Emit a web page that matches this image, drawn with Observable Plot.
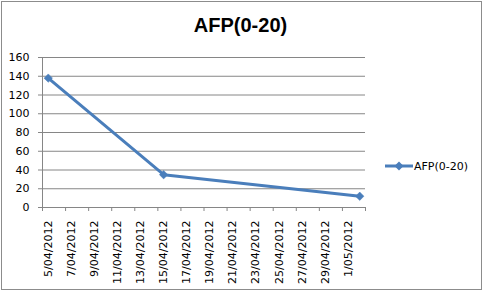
<!DOCTYPE html>
<html>
<head>
<meta charset="utf-8">
<script src="https://cdn.jsdelivr.net/npm/d3@7"></script>
<script src="https://cdn.jsdelivr.net/npm/@observablehq/plot@0.6"></script>
<style>
  html, body { margin: 0; padding: 0; background: #fff; }
  #wrap { position: relative; width: 483px; height: 291px; overflow: hidden; background: #fff; }
  #border { position: absolute; left: 1px; top: 1px; width: 481px; height: 289px; box-sizing: border-box; border: 1px solid #8c8c8c; pointer-events: none; }
  #title { position: absolute; left: 0; width: 481px; top: 14px; text-align: center; font: bold 20px "Liberation Sans", Arial, sans-serif; color: #000; }
  #legend { position: absolute; left: 385px; top: 158px; font: 11px "DejaVu Sans", sans-serif; color: #000; display: flex; align-items: center; }
  #legend svg { display: block; }
  #chart { position: absolute; left: 0; top: 0; }
  #chart svg text { font-family: "DejaVu Sans", sans-serif; }
</style>
</head>
<body>
<div id="wrap">
  <div id="chart"></div>
  <div id="title"></div>
  <div id="legend"></div>
  <div id="border"></div>
</div>
<script>
// ---- data ----
const chartTitle = "AFP(0-20)";
const seriesName = "AFP(0-20)";
const dates = ["2012-04-05", "2012-04-15", "2012-05-02"];
const values = [138, 35, 12];
const tickLabels = ["5/04/2012", "7/04/2012", "9/04/2012", "11/04/2012", "13/04/2012", "15/04/2012", "17/04/2012",
  "19/04/2012", "21/04/2012", "23/04/2012", "25/04/2012", "27/04/2012", "29/04/2012", "1/05/2012"];
const yTicks = [0, 20, 40, 60, 80, 100, 120, 140, 160];

// ---- build ----
const start = new Date(Date.UTC(2012, 3, 5));
const dayIndex = s => d3.utcDay.count(start, new Date(s + "T00:00:00Z"));
const data = dates.map((d, i) => ({x: dayIndex(d), y: values[i]}));
const nDays = 28; // 5/04 .. 2/05
const labelPos = tickLabels.map((_, i) => i * 2);
const tickPos = d3.range(0, nDays / 2 + 1).map(i => i * 2 - 0.5);

const color = "#4A7EBB";
const gray = "#868686";
const font = "DejaVu Sans, sans-serif";

const plot = Plot.plot({
  width: 483,
  height: 291,
  marginLeft: 42,
  marginRight: 118,
  marginTop: 57,
  marginBottom: 84,
  style: {fontFamily: font, fontSize: "11px", color: "#000", background: "transparent"},
  x: {domain: [-0.5, nDays - 0.5]},
  y: {domain: [0, 160]},
  marks: [
    Plot.gridY(yTicks, {stroke: gray, strokeOpacity: 1}),
    Plot.axisY({ticks: yTicks, tickSize: 4, tickPadding: 9, stroke: gray, label: null, fill: "#000", fontSize: 11, fontFamily: font}),
    Plot.ruleX([-0.5], {stroke: gray}),
    Plot.ruleY([0], {stroke: gray}),
    Plot.axisX({ticks: tickPos, tickSize: 4, tickFormat: () => "", stroke: gray, label: null}),
    Plot.axisX({ticks: labelPos, tickSize: 0, tickPadding: 13, tickRotate: -90, tickFormat: v => tickLabels[v / 2], label: null, fill: "#000", fontSize: 11, fontFamily: font}),
    Plot.line(data, {x: "x", y: "y", stroke: color, strokeWidth: 3}),
    Plot.dot(data, {x: "x", y: "y", symbol: "diamond2", r: 3.8, fill: color, stroke: color, strokeWidth: 0.5})
  ]
});
document.getElementById("chart").appendChild(plot);
document.getElementById("title").textContent = chartTitle;

const lg = document.getElementById("legend");
lg.innerHTML = `<svg width="28" height="16"><line x1="0" x2="28" y1="8" y2="8" stroke="${color}" stroke-width="3"/>` +
  `<path d="M14,3.5 L18.5,8 L14,12.5 L9.5,8 Z" fill="${color}"/></svg><span style="margin-left:1px">${seriesName}</span>`;
</script>
</body>
</html>
